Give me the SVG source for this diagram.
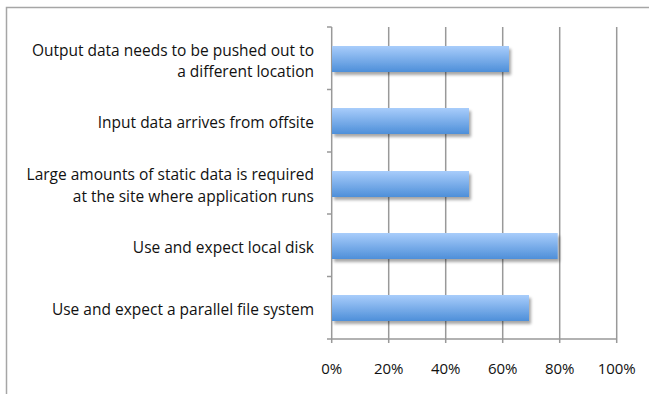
<svg xmlns="http://www.w3.org/2000/svg" width="649" height="394" viewBox="0 0 649 394">
  <defs>
    <linearGradient id="barFill" x1="0" y1="0" x2="0" y2="1">
      <stop offset="0" stop-color="#a9cdfb"/>
      <stop offset="1" stop-color="#4e8fd9"/>
    </linearGradient>
    <filter id="shadow" x="-5%" y="-20%" width="115%" height="160%">
      <feGaussianBlur in="SourceAlpha" stdDeviation="1.5"/>
      <feOffset dx="2" dy="2.5" result="b"/>
      <feComponentTransfer><feFuncA type="linear" slope="0.35"/></feComponentTransfer>
      <feMerge><feMergeNode/><feMergeNode in="SourceGraphic"/></feMerge>
    </filter>
    <style>
      .frame { fill: none; stroke: #a6a6a6; stroke-width: 1.5; }
      .grid { stroke: #999999; stroke-width: 1.5; }
      .axis { stroke: #999999; stroke-width: 1.5; fill: none; }
      .bar { fill: url(#barFill); filter: url(#shadow); }
      .cat { font-family: "Open Sans", "Liberation Sans", sans-serif; font-size: 15.5px; fill: #111111; text-anchor: end; }
      .tick { font-family: "Open Sans", "Liberation Sans", sans-serif; font-size: 15px; fill: #111111; text-anchor: middle; }
    </style>
  </defs>
  <rect width="649" height="394" fill="#ffffff"/>
  <!-- chart frame (runs off the right and bottom edges) -->
  <rect class="frame" x="6.5" y="7.5" width="660" height="400"/>

  <!-- vertical gridlines at 20% steps -->
  <g id="gridlines">
    <line class="grid" x1="388.7" y1="27" x2="388.7" y2="343"/>
    <line class="grid" x1="445.7" y1="27" x2="445.7" y2="343"/>
    <line class="grid" x1="502.7" y1="27" x2="502.7" y2="343"/>
    <line class="grid" x1="559.7" y1="27" x2="559.7" y2="343"/>
    <line class="grid" x1="616.7" y1="27" x2="616.7" y2="343"/>
  </g>

  <!-- axes and tick marks -->
  <g id="axes">
    <line class="axis" x1="331.7" y1="27" x2="331.7" y2="343"/>
    <line class="axis" x1="327" y1="339" x2="616.7" y2="339"/>
    <line class="axis" x1="327" y1="27" x2="331.7" y2="27"/>
    <line class="axis" x1="327" y1="89.5" x2="331.7" y2="89.5"/>
    <line class="axis" x1="327" y1="152" x2="331.7" y2="152"/>
    <line class="axis" x1="327" y1="214" x2="331.7" y2="214"/>
    <line class="axis" x1="327" y1="276.5" x2="331.7" y2="276.5"/>
  </g>

  <!-- bars -->
  <g id="bar-output"><rect class="bar" x="332" y="46" width="177" height="26"/></g>
  <g id="bar-input"><rect class="bar" x="332" y="108" width="137" height="26"/></g>
  <g id="bar-static"><rect class="bar" x="332" y="171" width="137" height="26"/></g>
  <g id="bar-localdisk"><rect class="bar" x="332" y="233" width="225.7" height="26"/></g>
  <g id="bar-pfs"><rect class="bar" x="332" y="295" width="197" height="26"/></g>

  <!-- category labels -->
  <g id="labels">
    <text class="cat" x="314" y="56">Output data needs to be pushed out to</text>
    <text class="cat" x="314" y="76.5">a different location</text>
    <text class="cat" x="314" y="128">Input data arrives from offsite</text>
    <text class="cat" x="314" y="180">Large amounts of static data is required</text>
    <text class="cat" x="314" y="202">at the site where application runs</text>
    <text class="cat" x="314" y="252.5">Use and expect local disk</text>
    <text class="cat" x="314" y="315">Use and expect a parallel file system</text>
  </g>

  <!-- percentage axis labels -->
  <g id="ticks">
    <text class="tick" x="331.7" y="374">0%</text>
    <text class="tick" x="388.7" y="374">20%</text>
    <text class="tick" x="445.7" y="374">40%</text>
    <text class="tick" x="502.7" y="374">60%</text>
    <text class="tick" x="559.7" y="374">80%</text>
    <text class="tick" x="616.7" y="374">100%</text>
  </g>
</svg>
